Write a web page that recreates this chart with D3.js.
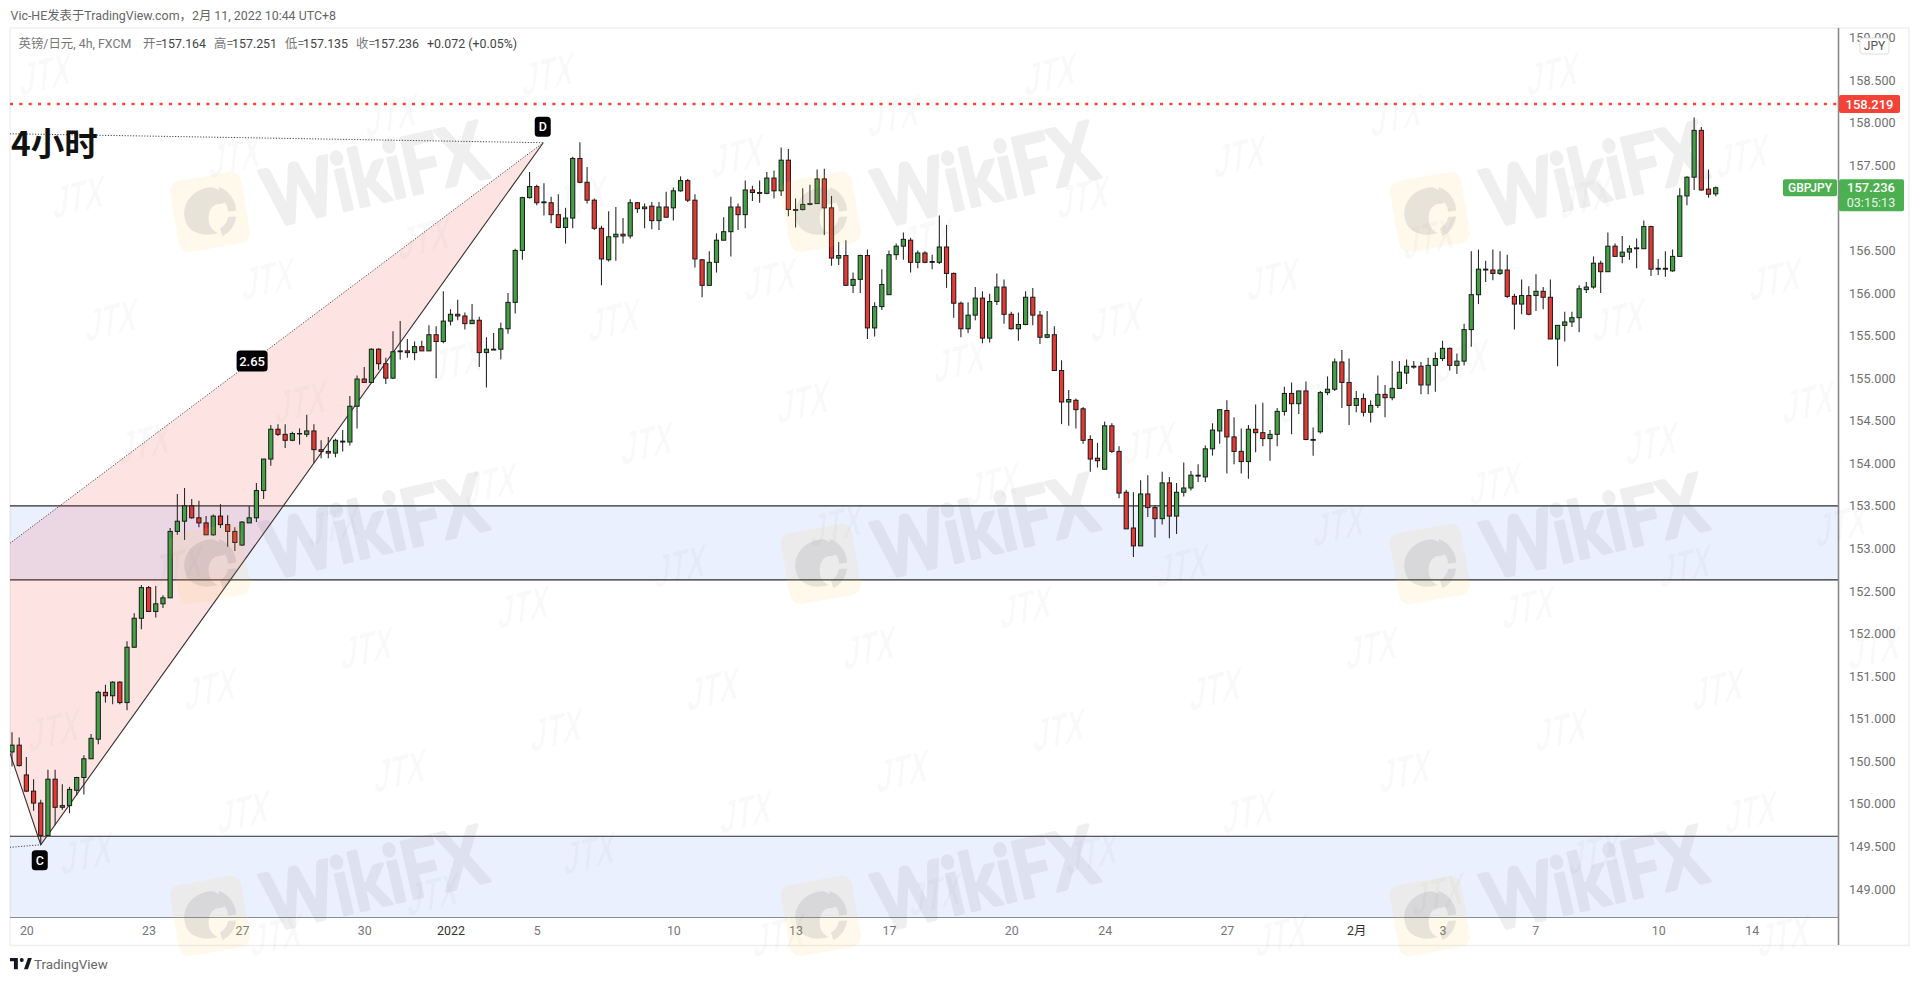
<!DOCTYPE html>
<html><head><meta charset="utf-8">
<script src="https://cdn.jsdelivr.net/npm/d3@7/dist/d3.min.js"></script>
<style>html,body{margin:0;background:#fff;overflow:hidden}svg{display:block}text{font-family:Roboto,"Noto Sans CJK SC",sans-serif}</style>
</head><body><svg id="c" width="1920" height="986"></svg>
<script>
const opens=[150.61,150.69,150.34,150.15,150.01,149.63,150.29,149.96,149.98,150.16,
150.31,150.53,150.76,151.31,151.27,151.43,151.19,151.84,152.18,152.54,
152.26,152.35,152.42,153.20,153.32,153.50,153.36,153.30,153.16,153.38,
153.28,153.20,153.04,153.30,153.36,153.68,154.05,154.40,154.34,154.27,
154.345,154.34,154.38,154.16,154.14,154.12,154.25,154.25,154.67,154.99,
154.95,155.34,155.17,155.00,155.31,155.32,155.30,155.37,155.32,155.51,
155.43,155.67,155.75,155.73,155.64,155.68,155.30,155.33,155.34,155.58,
155.89,156.50,157.12,157.25,157.06,157.06,156.92,156.77,156.88,157.58,
157.30,157.09,156.76,156.39,156.66,156.69,156.67,157.06,156.99,157.02,
156.85,157.01,157.00,157.20,157.32,157.09,156.39,156.09,156.36,156.62,
156.72,157.01,156.92,157.21,157.17,157.17,157.35,157.20,157.56,156.98,
156.98,157.04,157.05,157.34,157.00,156.41,156.44,156.09,156.16,156.44,
155.59,155.84,155.98,156.45,156.55,156.62,156.36,156.47,156.36,156.36,
156.54,156.23,155.88,155.58,155.74,155.94,155.47,155.90,156.07,155.75,
155.58,155.63,155.95,155.74,155.48,155.51,155.09,154.72,154.74,154.64,
154.28,154.06,153.93,154.44,154.14,153.66,153.24,153.03,153.64,153.48,
153.35,153.77,153.38,153.66,153.71,153.85,153.84,154.17,154.38,154.62,
154.31,154.14,154.02,154.40,154.36,154.29,154.34,154.61,154.82,154.70,
154.85,154.28,154.37,154.83,154.87,155.19,154.95,154.68,154.76,154.60,
154.68,154.81,154.77,154.88,155.06,155.13,155.14,154.92,155.15,155.23,
155.35,155.15,155.20,155.57,155.98,156.27,156.27,156.23,156.27,155.96,
155.87,155.97,155.97,156.02,155.95,155.46,155.62,155.66,155.71,156.04,
156.07,156.35,156.25,156.55,156.43,156.48,156.52,156.52,156.78,156.28,
156.28,156.26,156.43,157.14,157.36,157.91,157.22,157.164];
const highs=[150.84,150.78,150.55,150.29,150.05,150.40,150.40,150.23,150.20,150.32,
150.57,150.82,151.33,151.40,151.44,151.44,151.91,152.24,152.57,152.56,
152.56,152.45,153.24,153.64,153.71,153.58,153.56,153.38,153.40,153.52,
153.39,153.25,153.32,153.50,153.77,154.05,154.45,154.46,154.46,154.37,
154.41,154.57,154.46,154.27,154.31,154.29,154.39,154.79,155.03,155.13,
155.35,155.35,155.24,155.55,155.67,155.46,155.43,155.44,155.62,155.61,
156.02,155.81,155.92,155.77,155.87,155.72,155.48,155.53,155.65,156.00,
156.52,157.13,157.42,157.27,157.29,157.13,157.16,157.00,157.60,157.77,
157.48,157.11,156.79,156.96,157.01,156.88,157.10,157.07,157.05,157.07,
157.07,157.19,157.24,157.37,157.34,157.16,156.40,156.49,156.70,156.89,
157.13,157.05,157.32,157.26,157.32,157.42,157.44,157.71,157.69,157.11,
157.23,157.27,157.45,157.46,157.14,156.60,156.62,156.24,156.45,156.51,
155.89,156.28,156.50,156.58,156.71,156.65,156.50,156.49,156.45,156.91,
156.80,156.24,155.90,155.89,156.07,156.02,155.99,156.23,156.16,155.78,
155.77,156.02,156.06,155.79,155.79,155.61,155.21,154.86,154.76,154.66,
154.33,154.24,154.49,154.47,154.20,153.69,153.66,153.80,153.86,153.51,
153.90,153.84,153.77,154.01,153.91,153.99,154.21,154.47,154.63,154.74,
154.54,154.41,154.45,154.69,154.71,154.39,154.65,154.90,154.95,154.85,
154.96,154.42,154.85,155.02,155.23,155.33,155.23,154.85,154.82,154.74,
155.03,154.92,155.20,155.20,155.22,155.20,155.19,155.24,155.30,155.44,
155.36,155.29,155.64,156.49,156.51,156.38,156.51,156.49,156.45,155.99,
156.16,156.08,156.22,156.07,156.16,155.62,155.78,155.78,156.09,156.13,
156.43,156.38,156.71,156.58,156.67,156.56,156.64,156.85,156.79,156.40,
156.49,156.51,157.23,157.37,158.06,157.95,157.45,157.251];
const lows=[150.44,150.44,150.14,149.92,149.52,149.63,149.75,149.93,149.89,150.10,
150.11,150.53,150.70,151.19,151.17,151.17,151.10,151.83,152.05,152.26,
152.19,152.30,152.42,153.16,153.10,153.35,153.25,153.16,153.15,153.24,
153.02,152.97,153.03,153.30,153.31,153.58,153.97,154.32,154.18,154.26,
154.22,154.31,154.00,154.06,154.06,154.07,154.14,154.21,154.41,154.95,
154.95,155.10,154.93,154.99,155.22,155.24,155.21,155.32,155.32,155.00,
155.41,155.62,155.68,155.57,155.64,155.13,154.89,155.33,155.22,155.52,
155.76,156.39,157.11,157.03,156.91,156.82,156.76,156.58,156.76,157.29,
157.05,156.74,156.09,156.37,156.38,156.58,156.64,156.94,156.76,156.75,
156.74,156.88,156.85,157.19,157.07,156.30,155.95,156.09,156.24,156.62,
156.43,156.74,156.76,157.08,157.06,157.16,157.11,157.14,156.90,156.77,
156.97,157.03,157.05,156.68,156.32,156.33,156.09,156.00,156.00,155.46,
155.49,155.80,155.98,156.39,156.39,156.24,156.29,156.35,156.28,156.34,
156.06,155.71,155.48,155.53,155.68,155.41,155.42,155.86,155.64,155.57,
155.44,155.62,155.62,155.40,155.47,155.09,154.46,154.44,154.41,154.23,
153.90,153.95,153.93,154.12,153.59,153.23,152.90,153.03,153.37,153.13,
153.28,153.12,153.17,153.61,153.68,153.78,153.78,154.09,154.23,153.88,
153.99,153.88,153.82,154.13,154.20,154.03,154.20,154.56,154.34,154.58,
154.27,154.09,154.35,154.80,154.85,154.65,154.45,154.60,154.55,154.48,
154.65,154.54,154.74,154.88,154.93,155.11,154.81,154.81,154.84,155.20,
155.09,155.05,155.15,155.37,155.87,156.13,156.15,156.21,155.94,155.57,
155.75,155.74,155.79,155.81,155.46,155.14,155.43,155.60,155.54,156.00,
156.05,156.00,156.25,156.43,156.35,156.39,156.29,156.52,156.20,156.21,
156.19,156.25,156.43,157.03,157.21,157.20,157.12,157.135];
const closes=[150.69,150.45,150.15,150.01,149.63,150.29,149.96,149.98,150.17,150.31,
150.53,150.77,151.31,151.27,151.43,151.19,151.84,152.18,152.54,152.26,
152.35,152.42,153.20,153.32,153.50,153.36,153.30,153.16,153.38,153.28,
153.20,153.07,153.31,153.36,153.68,154.05,154.40,154.34,154.27,154.35,
154.35,154.38,154.16,154.14,154.12,154.27,154.26,154.67,154.99,154.95,
155.34,155.17,155.00,155.31,155.32,155.30,155.37,155.32,155.51,155.43,
155.67,155.75,155.73,155.64,155.68,155.30,155.34,155.34,155.58,155.89,
156.50,157.12,157.25,157.06,157.07,156.92,156.77,156.88,157.58,157.30,
157.09,156.76,156.40,156.66,156.69,156.67,157.06,156.99,157.01,156.85,
157.01,156.89,157.20,157.32,157.09,156.40,156.09,156.36,156.62,156.72,
157.01,156.92,157.21,157.18,157.18,157.35,157.20,157.56,156.98,156.97,
157.04,157.05,157.34,157.00,156.41,156.44,156.09,156.16,156.44,155.59,
155.84,156.10,156.45,156.55,156.63,156.36,156.47,156.36,156.37,156.54,
156.23,155.88,155.58,155.74,155.94,155.47,155.90,156.07,155.75,155.58,
155.63,155.95,155.74,155.48,155.51,155.09,154.72,154.75,154.63,154.27,
154.05,154.03,154.44,154.14,153.65,153.23,153.03,153.64,153.48,153.35,
153.77,153.38,153.66,153.71,153.86,153.86,154.17,154.39,154.63,154.31,
154.14,154.02,154.40,154.36,154.29,154.34,154.61,154.82,154.70,154.85,
154.28,154.27,154.83,154.87,155.19,154.95,154.68,154.76,154.60,154.68,
154.81,154.77,154.88,155.07,155.14,155.14,154.92,155.15,155.23,155.35,
155.15,155.20,155.57,155.98,156.28,156.28,156.23,156.27,155.96,155.87,
155.97,155.75,156.02,155.95,155.46,155.62,155.66,155.71,156.05,156.07,
156.35,156.25,156.55,156.43,156.48,156.52,156.53,156.78,156.28,156.29,
156.29,156.43,157.14,157.36,157.91,157.21,157.16,157.236];

const priceTicks=[159,158.5,158,157.5,156.5,156,155.5,155,154.5,154,153.5,153,152.5,152,151.5,151,150.5,150,149.5,149];
const timeTickIndex=[2,19,32,49,61,73,92,109,122,139,152,169,187,199,211.9,229,242];
const timeTickLabels=["20","23","27","30","2022","5","10","13","17","20","24","27","2月","3","7","10","14"];
const boldTimeLabels=["2022","2月"];
const zones=[[153.5,152.63],[149.62,148.66]];
const resistance=158.219, lastPrice=157.236;
// harmonic pattern anchors: [candle index, price]
const patternEdgeUpper=[-0.3,153.06], patternD=[73.9,157.765], patternC=[4,149.52], patternEdgeLower=[-0.3,150.6];
const dottedTop=[-0.3,157.87], dottedLow=[-0.3,149.49];
const ratioLabel={t:"2.65",i:33.4,p:155.2};

const svg=d3.select("#c");
const x=d3.scaleLinear().domain([0,237]).range([12,1715.7]);
const y=d3.scaleLinear().domain([158,149]).range([122.7,889.05]);
const pane={l:10,t:28,r:1838,b:918};
const GREEN="#43a047",RED="#e53935",LBL="#4caf50";

svg.append("defs").append("clipPath").attr("id","pane").append("rect")
 .attr("x",pane.l).attr("y",pane.t).attr("width",pane.r-pane.l).attr("height",pane.b-pane.t);

// frame
svg.append("rect").attr("x",10).attr("y",28).attr("width",1899).attr("height",917.5).attr("fill","none").attr("stroke","#efefef").attr("stroke-width",1.5);

const g=svg.append("g").attr("clip-path","url(#pane)");
// zones
zones.forEach(z=>{
 g.append("rect").attr("x",pane.l).attr("width",pane.r-pane.l).attr("y",y(z[0])).attr("height",y(z[1])-y(z[0])).attr("fill","rgba(41,98,255,0.095)");
 z.forEach(v=>g.append("line").attr("x1",pane.l).attr("x2",pane.r).attr("y1",y(v)).attr("y2",y(v)).attr("stroke","#2b2b2b").attr("stroke-width",1.2));
});
// pattern
const P=d=>[x(d[0]),y(d[1])];
g.append("path").attr("d",d3.line()([patternEdgeUpper,patternD,patternC,patternEdgeLower].map(P))).attr("fill","rgba(244,67,54,0.14)");
g.append("path").attr("d",d3.line()([patternEdgeLower,patternC,patternD].map(P))).attr("fill","none").attr("stroke","#3a2f2f").attr("stroke-width",1.1);
[[dottedTop,patternD],[patternEdgeUpper,patternD],[dottedLow,patternC]].forEach(s=>
 g.append("path").attr("d",d3.line()(s.map(P))).attr("fill","none").attr("stroke","#444").attr("stroke-width",1).attr("stroke-dasharray","1.2 1.6"));

// candles
const idx=d3.range(opens.length);
const cg=g.append("g");
cg.selectAll("line").data(idx).join("line")
 .attr("x1",i=>x(i)).attr("x2",i=>x(i)).attr("y1",i=>y(highs[i])).attr("y2",i=>y(lows[i]))
 .attr("stroke","#2a2a2a").attr("stroke-width",1.1);
cg.selectAll("rect").data(idx).join("rect")
 .attr("x",i=>x(i)-2.1).attr("width",4.2)
 .attr("y",i=>y(Math.max(opens[i],closes[i])))
 .attr("height",i=>Math.max(0.4,Math.abs(y(opens[i])-y(closes[i]))))
 .attr("fill",i=>closes[i]>=opens[i]?GREEN:RED)
 .attr("stroke","#1a1a1a").attr("stroke-width",1);

// resistance dotted
g.append("line").attr("x1",pane.l).attr("x2",pane.r).attr("y1",y(resistance)).attr("y2",y(resistance))
 .attr("stroke","#f44336").attr("stroke-width",2.6).attr("stroke-dasharray","3 6.35");

// badges
function badge(cx,cy,w,h,t,fs){
 svg.append("rect").attr("x",cx-w/2).attr("y",cy-h/2).attr("width",w).attr("height",h).attr("rx",3.5).attr("fill","#000");
 svg.append("text").attr("x",cx).attr("y",cy+fs*0.36).attr("text-anchor","middle").attr("fill","#fff").attr("font-size",fs).attr("font-weight",500).text(t);
}
badge(x(ratioLabel.i),y(ratioLabel.p),31,21,ratioLabel.t,13);
badge(x(patternD[0])-0.5,y(patternD[1])-16,16,20,"D",12.5);
badge(x(patternC[0])-1,y(patternC[1])+15.5,16,20,"C",12.5);

// 4h title
svg.append("text").attr("x",11).attr("y",156).attr("font-size",33.5).attr("font-weight",700).attr("fill","#111").attr("style",'font-family:"Noto Sans CJK SC"').text("4小时");

// price axis
svg.append("g").attr("transform",`translate(${pane.r},0)`)
 .call(d3.axisRight(y).tickValues(priceTicks).tickSize(0).tickPadding(11).tickFormat(d3.format(".3f")))
 .call(a=>{a.select(".domain").remove();a.selectAll("text").attr("fill","#6f6f6f").attr("font-size",12.6).attr("letter-spacing",0.15).attr("font-family",null);});
svg.append("line").attr("x1",pane.r+.5).attr("x2",pane.r+.5).attr("y1",28).attr("y2",945).attr("stroke","#8a8a8a").attr("stroke-width",1.6);
// time axis
svg.append("g").attr("transform",`translate(0,${pane.b})`)
 .call(d3.axisBottom(x).tickValues(timeTickIndex).tickSize(0).tickPadding(8).tickFormat((d,i)=>timeTickLabels[i]))
 .call(a=>{a.select(".domain").remove();a.selectAll("text").attr("font-size",12.4).attr("font-family",null)
  .attr("fill",function(){return boldTimeLabels.includes(this.textContent)?"#333":"#777";});});

// JPY chip
svg.append("rect").attr("x",1860).attr("y",38).attr("width",29).attr("height",16).attr("rx",3).attr("fill","#fff").attr("stroke","#ddd");
svg.append("text").attr("x",1874.5).attr("y",50).attr("text-anchor","middle").attr("fill","#555").attr("font-size",12).text("JPY");

// price labels
svg.append("rect").attr("x",1839).attr("y",y(resistance)-9).attr("width",61).attr("height",18).attr("rx",2).attr("fill","#f44336");
svg.append("text").attr("x",1869.5).attr("y",y(resistance)+4.6).attr("text-anchor","middle").attr("fill","#fff").attr("font-size",13).attr("font-weight",500).text(d3.format(".3f")(resistance));
const ly=y(lastPrice);
svg.append("rect").attr("x",1783).attr("y",ly-8.5).attr("width",54).attr("height",17).attr("rx",2).attr("fill",LBL);
svg.append("text").attr("x",1810).attr("y",ly+4.4).attr("text-anchor","middle").attr("fill","#fff").attr("font-size",12).attr("font-weight",500).text("GBPJPY");
svg.append("rect").attr("x",1839).attr("y",ly-8.5).attr("width",65).attr("height",32).attr("rx",2).attr("fill",LBL);
svg.append("text").attr("x",1871).attr("y",ly+4.5).attr("text-anchor","middle").attr("fill","#fff").attr("font-size",13).attr("font-weight",500).text(d3.format(".3f")(lastPrice));
svg.append("text").attr("x",1871).attr("y",ly+19).attr("text-anchor","middle").attr("fill","#e6f5e7").attr("font-size",12.6).text("03:15:13");

// header
svg.append("text").attr("x",10.5).attr("y",19.5).attr("font-size",12.4).attr("fill","#666").text("Vic-HE发表于TradingView.com，2月 11, 2022 10:44 UTC+8");
const legendParts=[["英镑/日元, 4h, FXCM",18.5,"#777"],["开=",143,"#777"],["157.164",161,"#444"],["高=",214,"#777"],["157.251",232,"#444"],["低=",285,"#777"],["157.135",303,"#444"],["收=",356,"#777"],["157.236",374,"#444"],["+0.072 (+0.05%)",427,"#444"]];
legendParts.forEach(p=>svg.append("text").attr("x",p[1]).attr("y",48).attr("font-size",12.4).attr("fill",p[2]).text(p[0]));

// footer
const tv=svg.append("g").attr("transform","translate(10,958) scale(0.56)");
tv.append("path").attr("fill","#131722").attr("d","M14 0H0v6h7v14h7V0zM32 20h-7l7-20h7l-7 20z");
tv.append("circle").attr("cx",21).attr("cy",3.5).attr("r",3.5).attr("fill","#131722");
svg.append("text").attr("x",34).attr("y",968.5).attr("font-size",13.4).attr("fill","#666").text("TradingView");

// watermarks (on top)
const wm=svg.append("g").attr("pointer-events","none");
const ax=33,ay=123,bx=156.5,by=-41;
for(let m=-12;m<14;m++)for(let n=-6;n<18;n++){
 const px=79+m*ax+n*bx,py=197+m*ay+n*by;
 if(px<32||px>1888||py<34||py>956)continue;
 wm.append("text").attr("transform",`translate(${px},${py}) rotate(-14) skewX(-20)`).attr("text-anchor","middle").attr("y",15)
  .attr("font-size",44).attr("font-weight",700).attr("fill","rgba(70,70,70,0.033)").attr("style",'font-family:"Liberation Sans Narrow","Liberation Sans"').attr("textLength",52).attr("lengthAdjust","spacingAndGlyphs").text("JTX");
}
[821-611,821,1430].forEach(cx=>[212,564,916].forEach(cy=>{
 const w=wm.append("g").attr("transform",`translate(${cx},${cy}) rotate(-10)`);
 w.append("rect").attr("x",-36).attr("y",-36).attr("width",72).attr("height",72).attr("rx",10).attr("fill","rgba(250,200,70,0.11)");
 const e=w.append("g").attr("opacity",0.12).attr("fill","#50505e");
 e.append("path").attr("d","M-26,2C-26,-16 -10,-26 6,-24C12,-22 16,-16 22,-8L12,-6C6,-8 0,-4 -2,4C-4,12 -2,18 4,22C-12,24 -26,16 -26,2Z");
 e.append("path").attr("d","M13,-23A26,26 0 0 1 26,3L18,3A18,18 0 0 0 11,-13Z");
 e.append("path").attr("d","M25,9A26,26 0 0 1 8,26L7,18A18,18 0 0 0 17,8Z");
 const t=w.append("text").attr("x",57).attr("y",26).attr("font-size",80).attr("font-weight",700)
  .attr("fill","#5a5060").attr("stroke","#5a5060").attr("stroke-width",3).attr("stroke-linejoin","round").attr("opacity",0.085)
  .attr("transform","rotate(-3 57 26)")
  .attr("style",'font-family:"Lato"').attr("textLength",226).attr("lengthAdjust","spacingAndGlyphs").text("WikiFX");
}));
</script></body></html>
